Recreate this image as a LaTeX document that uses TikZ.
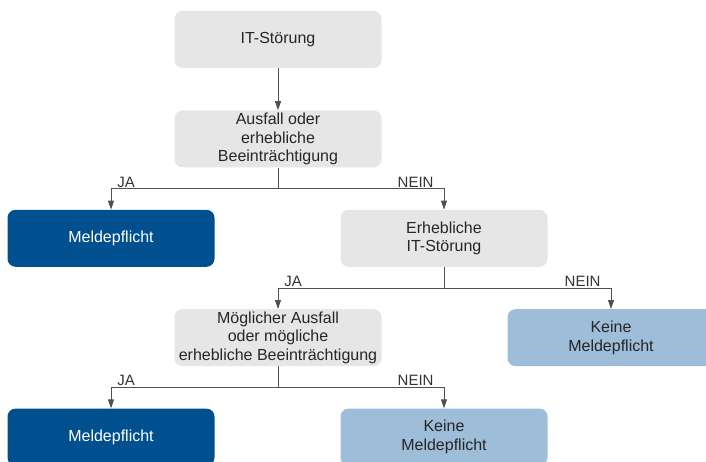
\documentclass[tikz,border=0pt]{standalone}
\usepackage{fontspec}
\setmainfont{Liberation Sans}
\usepackage{tikz}
\usetikzlibrary{arrows.meta,positioning}
\definecolor{boxgray}{HTML}{E6E6E6}
\definecolor{deepblue}{HTML}{00508F}
\definecolor{paleblue}{HTML}{9DBDD9}
\definecolor{linegray}{HTML}{505050}

\begin{document}
\begin{tikzpicture}[x=1pt,y=-1pt,node distance=42pt,
    box/.style={rounded corners=8pt,minimum width=207pt,minimum height=57pt,
      align=center,inner sep=0.5pt,font=\fontsize{16}{18.5}\selectfont},
    query/.style={box,fill=boxgray,text=black!85},
    report/.style={box,fill=deepblue,text=white},
    noreport/.style={box,fill=paleblue,text=black!85},
    trunk/.style={draw=linegray,line width=0.9pt},
    conn/.style={trunk,-{Triangle[length=9pt,width=6pt]}},
    ja/.style={font=\fontsize{15}{17}\selectfont,anchor=south west,
      inner sep=1pt,xshift=5pt,text=black!80},
    nein/.style={ja,anchor=south east,xshift=-14pt}]
  \useasboundingbox (0,0) rectangle (706,462);
  \clip (0,0) rectangle (706,462);

  \node[query] (stoerung) at (278,39.5) {IT-Störung};
  \node[query,below=of stoerung] (ausfall) {Ausfall oder\\erhebliche\\Beeinträchtigung};
  \node[report,below=of ausfall,xshift=-167pt] (melde1) {Meldepflicht};
  \node[query,below=of ausfall,xshift=166pt] (erheblich) {Erhebliche\\IT-Störung};
  \node[query,below=of erheblich,xshift=-166pt] (moeglich) {Möglicher Ausfall\\oder mögliche\\erhebliche Beeinträchtigung};
  \node[noreport,below=of erheblich,xshift=167pt] (keine1) {Keine\\Meldepflicht};
  \node[report,below=of moeglich,xshift=-167pt] (melde2) {Meldepflicht};
  \node[noreport,below=of moeglich,xshift=166pt] (keine2) {Keine\\Meldepflicht};

  \draw[conn] (stoerung) -- (ausfall);

  % first question
  \draw[trunk] (ausfall.south) -- ++(0,21) coordinate (split1);
  \draw[conn] (split1) -| node[ja] {JA} (melde1);
  \draw[conn] (split1) -| node[nein] {NEIN} (erheblich);

  % second question
  \draw[trunk] (erheblich.south) -- ++(0,21) coordinate (split2);
  \draw[conn] (split2) -| node[ja] {JA} (moeglich);
  \draw[conn] (split2) -| node[nein] {NEIN} (keine1);

  % third question
  \draw[trunk] (moeglich.south) -- ++(0,21) coordinate (split3);
  \draw[conn] (split3) -| node[ja] {JA} (melde2);
  \draw[conn] (split3) -| node[nein] {NEIN} (keine2);
\end{tikzpicture}
\end{document}
